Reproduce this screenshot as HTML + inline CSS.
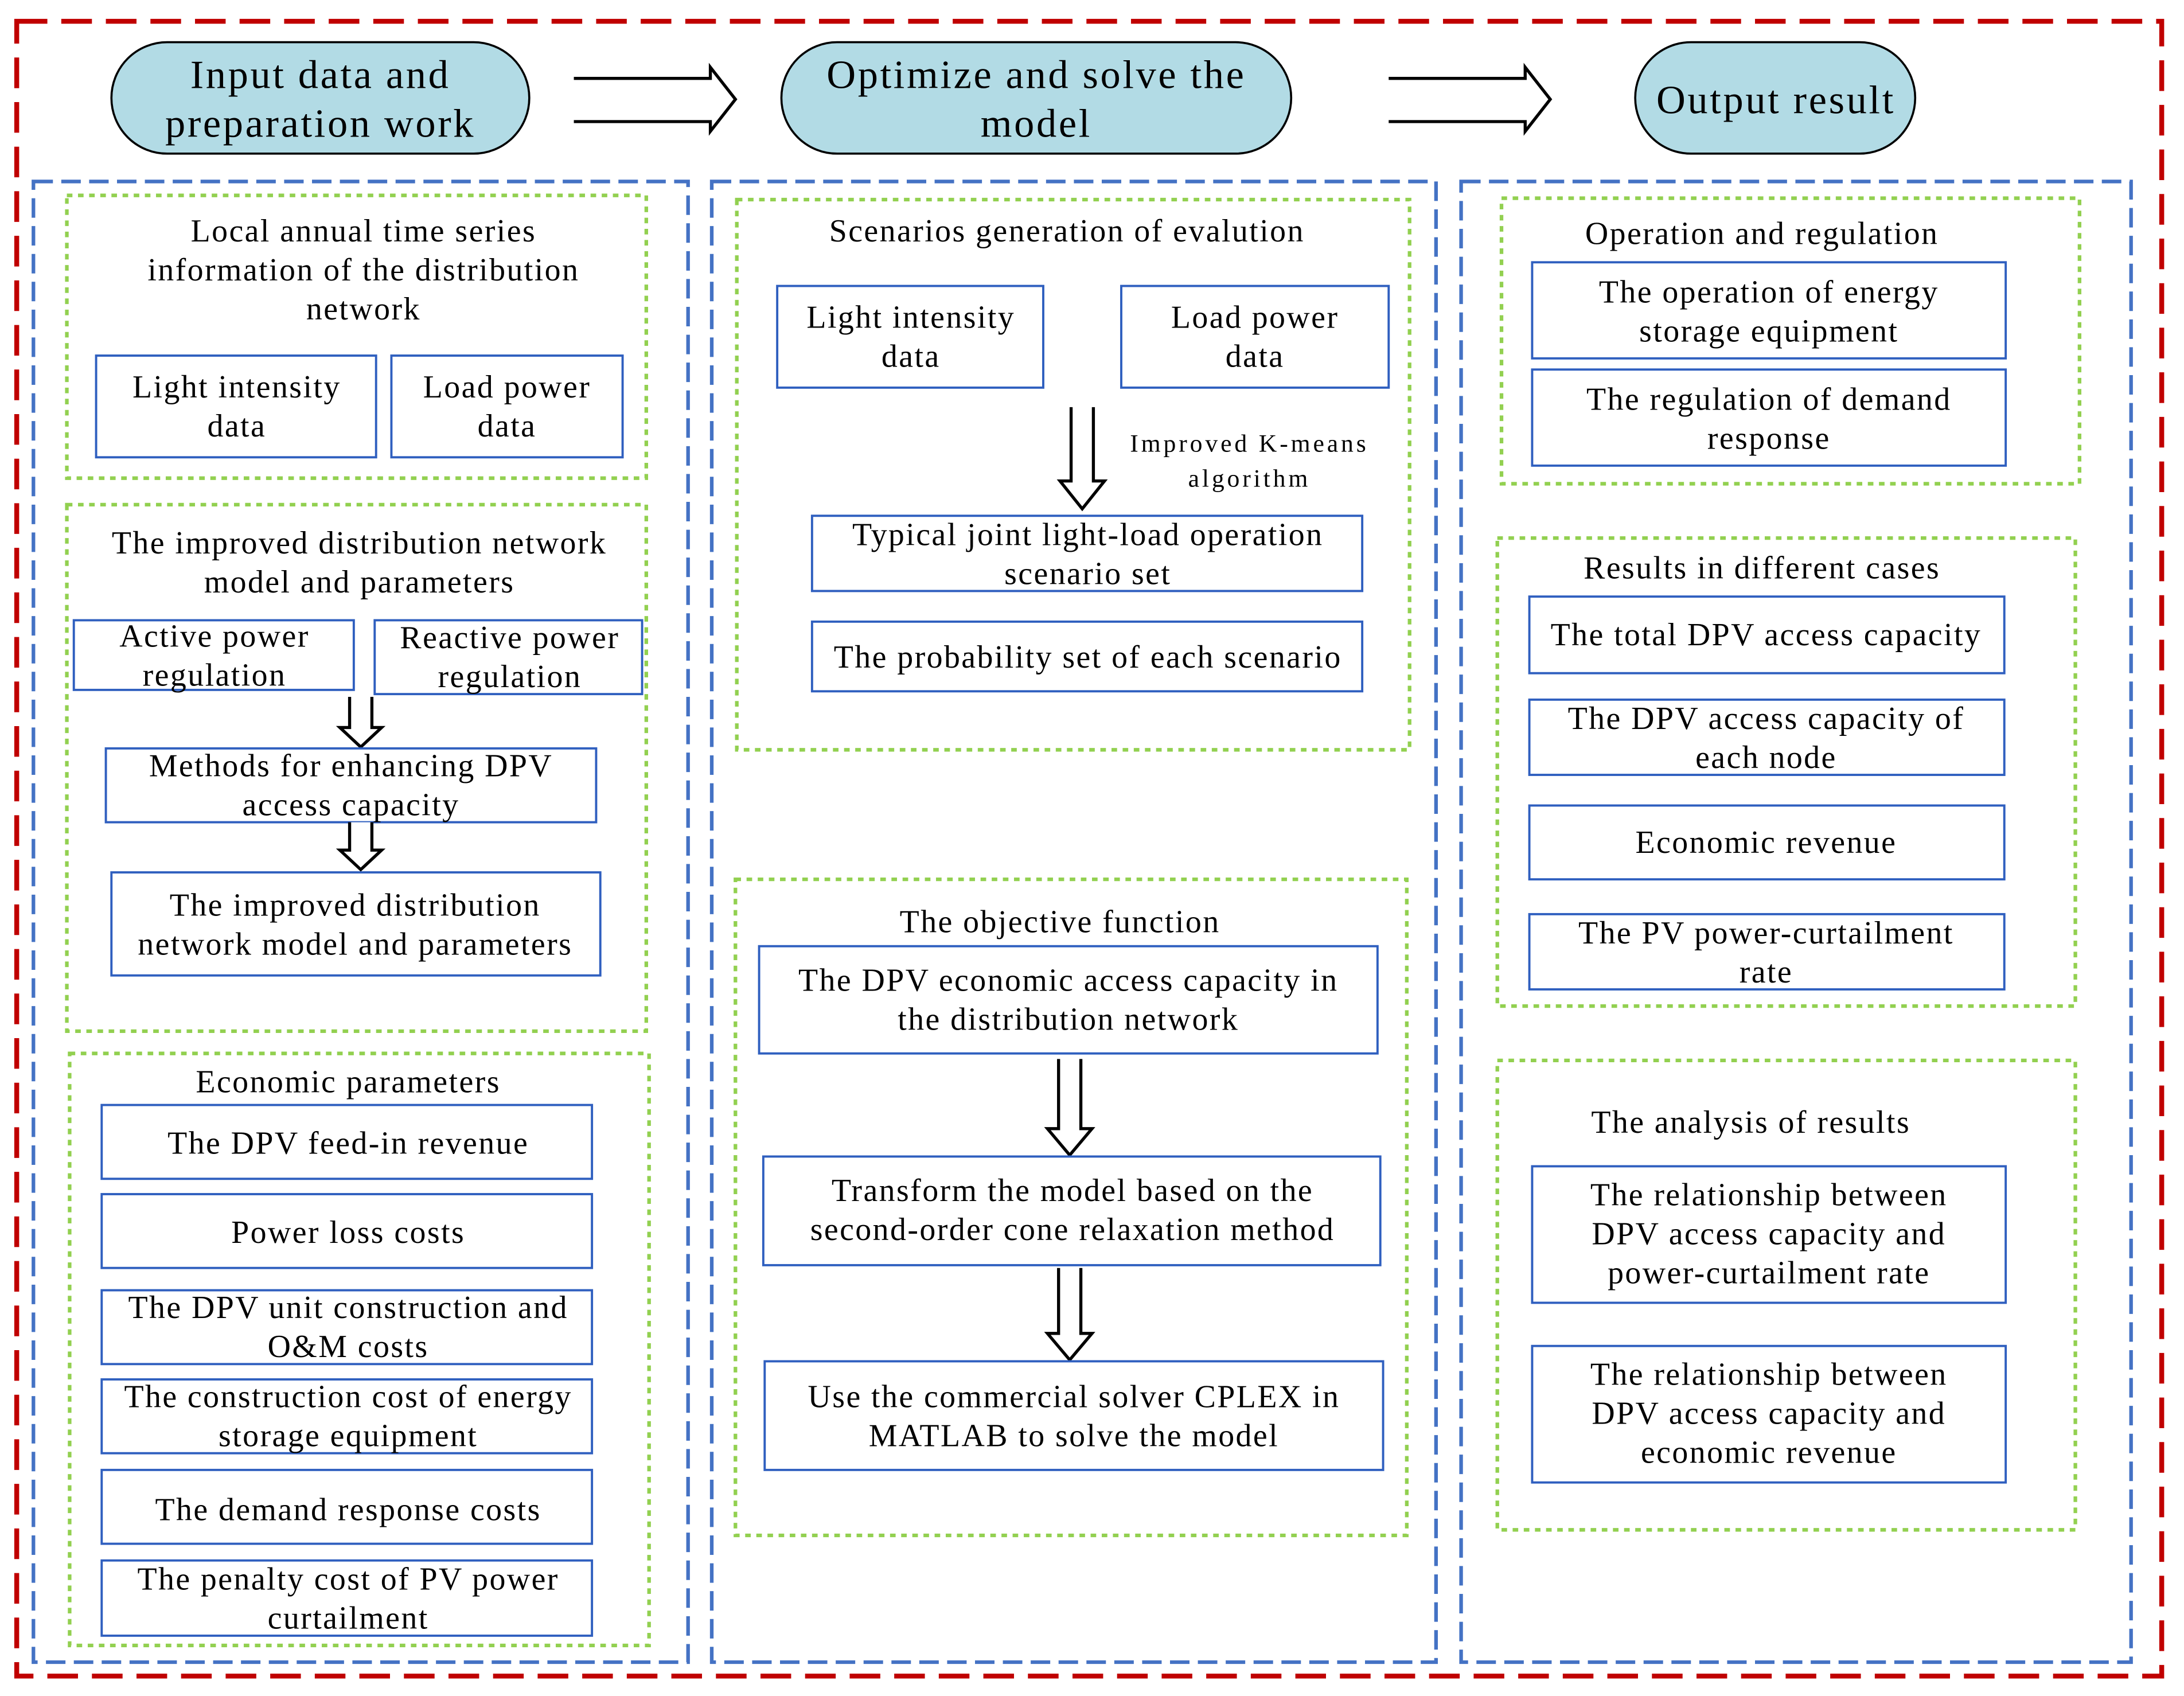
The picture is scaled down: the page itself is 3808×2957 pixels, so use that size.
<!DOCTYPE html>
<html><head><meta charset="utf-8"><style>
html,body{margin:0;padding:0;background:#fff;}
svg{display:block;}
text{font-family:"Liberation Serif",serif;font-size:23px;letter-spacing:1px;fill:#000;text-anchor:middle;}
.h{font-size:29px;letter-spacing:1.5px;}
.s{font-size:18px;letter-spacing:2px;}
.b{fill:#fff;stroke:#2f5fbf;stroke-width:1.6;}
.g{fill:none;stroke:#92d050;stroke-width:2.6;stroke-dasharray:4 4;}
.bl{fill:none;stroke:#4472c4;stroke-width:2.6;stroke-dasharray:14 6;}
.p{fill:#b2dbe5;stroke:#000;stroke-width:1.5;}
.a{fill:#fff;stroke:#000;stroke-width:2.2;}
</style></head><body>
<svg width="3808" height="2957" viewBox="0 0 1568 1217" xmlns="http://www.w3.org/2000/svg">
<rect x="12" y="15" width="1540" height="1188" fill="none" stroke="#c00000" stroke-width="3.5" stroke-dasharray="22 10"/>
<rect class="p" x="80" y="30" width="300" height="80" rx="40"/>
<text class="h" x="230" y="63">Input data and</text><text class="h" x="230" y="98">preparation work</text>
<rect class="p" x="561" y="30" width="366" height="80" rx="40"/>
<text class="h" x="744" y="63">Optimize and solve the</text><text class="h" x="744" y="98">model</text>
<rect class="p" x="1174" y="30" width="201" height="80" rx="40"/>
<text class="h" x="1275" y="81">Output result</text>
<path class="a" d="M412 56 H510 V48 L528 71 L510 94 V87 H412" fill="none"/>
<path class="a" d="M997 56 H1095 V48 L1113 71 L1095 94 V87 H997" fill="none"/>
<rect class="bl" x="24" y="130" width="470" height="1063"/>
<rect class="bl" x="511" y="130" width="520" height="1063"/>
<rect class="bl" x="1049" y="130" width="481" height="1063"/>
<rect class="g" x="48" y="140" width="416" height="203"/>
<text x="261" y="173">Local annual time series</text><text x="261" y="201">information of the distribution</text><text x="261" y="229">network</text>
<rect class="b" x="69" y="255" width="201" height="73"/><text x="170" y="285">Light intensity</text><text x="170" y="313">data</text>
<rect class="b" x="281" y="255" width="166" height="73"/><text x="364" y="285">Load power</text><text x="364" y="313">data</text>
<rect class="g" x="48" y="362" width="416" height="378"/>
<text x="258" y="397">The improved distribution network</text><text x="258" y="425">model and parameters</text>
<rect class="b" x="53" y="445" width="201" height="50"/><text x="154" y="464">Active power</text><text x="154" y="492">regulation</text>
<rect class="b" x="269" y="445" width="192" height="53"/><text x="366" y="465">Reactive power</text><text x="366" y="493">regulation</text>
<path class="a" d="M251 500 V522 H244 L259 536 L274 522 H267 V500"/>
<rect class="b" x="76" y="537" width="352" height="53"/><text x="252" y="557">Methods for enhancing DPV</text><text x="252" y="585">access capacity</text>
<path class="a" d="M251 590 V610 H244 L259 624 L274 610 H267 V590"/>
<rect class="b" x="80" y="626" width="351" height="74"/><text x="255" y="657">The improved distribution</text><text x="255" y="685">network model and parameters</text>
<rect class="g" x="50" y="756" width="416" height="425"/>
<text x="250" y="784">Economic parameters</text>
<rect class="b" x="73" y="793" width="352" height="53"/><text x="250" y="828">The DPV feed-in revenue</text>
<rect class="b" x="73" y="857" width="352" height="53"/><text x="250" y="892">Power loss costs</text>
<rect class="b" x="73" y="926" width="352" height="53"/><text x="250" y="946">The DPV unit construction and</text><text x="250" y="974">O&amp;M costs</text>
<rect class="b" x="73" y="990" width="352" height="53"/><text x="250" y="1010">The construction cost of energy</text><text x="250" y="1038">storage equipment</text>
<rect class="b" x="73" y="1055" width="352" height="53"/><text x="250" y="1091">The demand response costs</text>
<rect class="b" x="73" y="1120" width="352" height="54"/><text x="250" y="1141">The penalty cost of PV power</text><text x="250" y="1169">curtailment</text>
<rect class="g" x="529" y="143" width="483" height="395"/>
<text x="766" y="173">Scenarios generation of evalution</text>
<rect class="b" x="558" y="205" width="191" height="73"/><text x="654" y="235">Light intensity</text><text x="654" y="263">data</text>
<rect class="b" x="805" y="205" width="192" height="73"/><text x="901" y="235">Load power</text><text x="901" y="263">data</text>
<path class="a" d="M769 292 V345 H761 L777 365 L793 345 H785 V292"/>
<text class="s" x="897" y="324">Improved K-means</text><text class="s" x="897" y="349">algorithm</text>
<rect class="b" x="583" y="370" width="395" height="54"/><text x="781" y="391">Typical joint light-load operation</text><text x="781" y="419">scenario set</text>
<rect class="b" x="583" y="446" width="395" height="50"/><text x="781" y="479">The probability set of each scenario</text>
<rect class="g" x="528" y="631" width="482" height="471"/>
<text x="761" y="669">The objective function</text>
<rect class="b" x="545" y="679" width="444" height="77"/><text x="767" y="711">The DPV economic access capacity in</text><text x="767" y="739">the distribution network</text>
<path class="a" d="M760 760 V810 H752 L768 829 L784 810 H776 V760"/>
<rect class="b" x="548" y="830" width="443" height="78"/><text x="770" y="862">Transform the model based on the</text><text x="770" y="890">second-order cone relaxation method</text>
<path class="a" d="M760 910 V957 H752 L768 976 L784 957 H776 V910"/>
<rect class="b" x="549" y="977" width="444" height="78"/><text x="771" y="1010">Use the commercial solver CPLEX in</text><text x="771" y="1038">MATLAB to solve the model</text>
<rect class="g" x="1078" y="142" width="415" height="205"/>
<text x="1265" y="175">Operation and regulation</text>
<rect class="b" x="1100" y="188" width="340" height="69"/><text x="1270" y="217">The operation of energy</text><text x="1270" y="245">storage equipment</text>
<rect class="b" x="1100" y="265" width="340" height="69"/><text x="1270" y="294">The regulation of demand</text><text x="1270" y="322">response</text>
<rect class="g" x="1075" y="386" width="415" height="336"/>
<text x="1265" y="415">Results in different cases</text>
<rect class="b" x="1098" y="428" width="341" height="55"/><text x="1268" y="463">The total DPV access capacity</text>
<rect class="b" x="1098" y="502" width="341" height="54"/><text x="1268" y="523">The DPV access capacity of</text><text x="1268" y="551">each node</text>
<rect class="b" x="1098" y="578" width="341" height="53"/><text x="1268" y="612">Economic revenue</text>
<rect class="b" x="1098" y="656" width="341" height="54"/><text x="1268" y="677">The PV power-curtailment</text><text x="1268" y="705">rate</text>
<rect class="g" x="1075" y="761" width="415" height="337"/>
<text x="1257" y="813">The analysis of results</text>
<rect class="b" x="1100" y="837" width="340" height="98"/><text x="1270" y="865">The relationship between</text><text x="1270" y="893">DPV access capacity and</text><text x="1270" y="921">power-curtailment rate</text>
<rect class="b" x="1100" y="966" width="340" height="98"/><text x="1270" y="994">The relationship between</text><text x="1270" y="1022">DPV access capacity and</text><text x="1270" y="1050">economic revenue</text>
</svg>
</body></html>
